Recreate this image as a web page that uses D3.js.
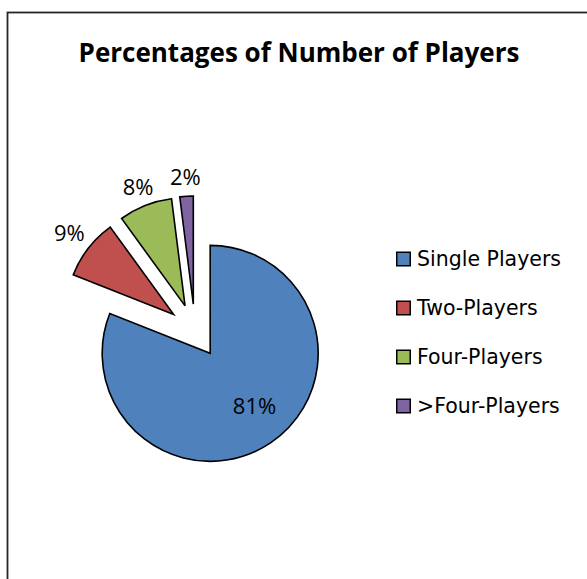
<!DOCTYPE html>
<html>
<head>
<meta charset="utf-8">
<script src="https://cdn.jsdelivr.net/npm/d3@7"></script>
<style>
  html, body { margin: 0; padding: 0; background: #fff; }
  svg { display: block; }
</style>
</head>
<body>
<svg id="chart" width="587" height="579"></svg>
<script>
// Share of games by number of players
const categories = ["Single Players", "Two-Players", "Four-Players", ">Four-Players"];
const values = [81, 9, 8, 2];
const colors = ["#4F81BD", "#C0504D", "#9BBB59", "#8064A2"];
const titleText = "Percentages of Number of Players";

const W = 587, H = 579;
const svg = d3.select("#chart");
const titleFont = "'Open Sans', Lato, sans-serif";
const labelFont = "'Open Sans', Lato, sans-serif";
const legendFont = "'DejaVu Sans', 'Open Sans', sans-serif";

// chart frame (runs off the right and bottom edges)
svg.append("rect")
  .attr("x", 7.5).attr("y", 12.5)
  .attr("width", 620).attr("height", 620)
  .attr("fill", "#fff")
  .attr("stroke", "#262626")
  .attr("stroke-width", 1.8);

// title, fitted to its box width
const title = svg.append("text")
  .attr("x", 299).attr("y", 62)
  .attr("text-anchor", "middle")
  .attr("font-family", titleFont)
  .attr("font-weight", "bold")
  .attr("font-size", 26)
  .attr("fill", "#000")
  .text(titleText);
const titleW = 442;
if (Math.abs(title.node().getComputedTextLength() - titleW) > 3) {
  title.attr("textLength", titleW).attr("lengthAdjust", "spacingAndGlyphs");
}

// pie
const cx = 195, cy = 331, r = 108, explode = 27;
const pie = d3.pie().sort(null).value(d => d)(values);
const arc = d3.arc().innerRadius(0).outerRadius(r);

const g = svg.append("g").attr("transform", `translate(${cx},${cy})`);

const mid = d => (d.startAngle + d.endAngle) / 2;
const dir = d => [Math.sin(mid(d)), -Math.cos(mid(d))];

g.selectAll("path.slice")
  .data(pie)
  .join("path")
  .attr("class", "slice")
  .attr("transform", d => {
    const [ux, uy] = dir(d);
    return `translate(${ux * explode},${uy * explode})`;
  })
  .attr("d", arc)
  .attr("fill", (d, i) => colors[i])
  .attr("stroke", "#000")
  .attr("stroke-width", 1.6)
  .attr("stroke-linejoin", "miter");

// data labels: large slices inside, small ones just outside the rim
const labelSize = 22;
const lbl = g.selectAll("text.lbl")
  .data(pie)
  .join("text")
  .attr("class", "lbl")
  .attr("font-family", labelFont)
  .attr("font-size", labelSize)
  .attr("fill", "#000")
  .attr("text-anchor", "middle")
  .attr("dy", "0.36em")
  .text(d => d.data + "%");

lbl.each(function(d) {
  let [ux, uy] = dir(d);
  const bb = this.getBBox();
  let dist;
  if (d.data >= 20) {
    // inside label, nudged toward the slice's lower-right body
    const a = mid(d) - 0.1;
    ux = Math.sin(a); uy = -Math.cos(a);
    dist = r * 0.64;
  } else {
    const hw = bb.width / 2, hh = 8;
    const t = Math.min(Math.abs(ux) > 1e-6 ? hw / Math.abs(ux) : Infinity,
                       Math.abs(uy) > 1e-6 ? hh / Math.abs(uy) : Infinity);
    dist = r + 11 + t;
  }
  const ex = dir(d);
  d3.select(this)
    .attr("x", ex[0] * explode + ux * dist)
    .attr("y", ex[1] * explode + uy * dist);
});

// legend
const legend = svg.append("g").attr("transform", "translate(396,251.5)");
const rowStep = 49;
const item = legend.selectAll("g.item")
  .data(categories)
  .join("g")
  .attr("class", "item")
  .attr("transform", (d, i) => `translate(0,${i * rowStep})`);

item.append("rect")
  .attr("x", 0.75).attr("y", 0.75)
  .attr("width", 13.5).attr("height", 13.5)
  .attr("fill", (d, i) => colors[i])
  .attr("stroke", "#000")
  .attr("stroke-width", 1.5);

item.append("text")
  .attr("x", 21).attr("y", 14.5)
  .attr("font-family", legendFont)
  .attr("font-size", 20.5)
  .attr("fill", "#000")
  .text(d => d);
</script>
</body>
</html>
